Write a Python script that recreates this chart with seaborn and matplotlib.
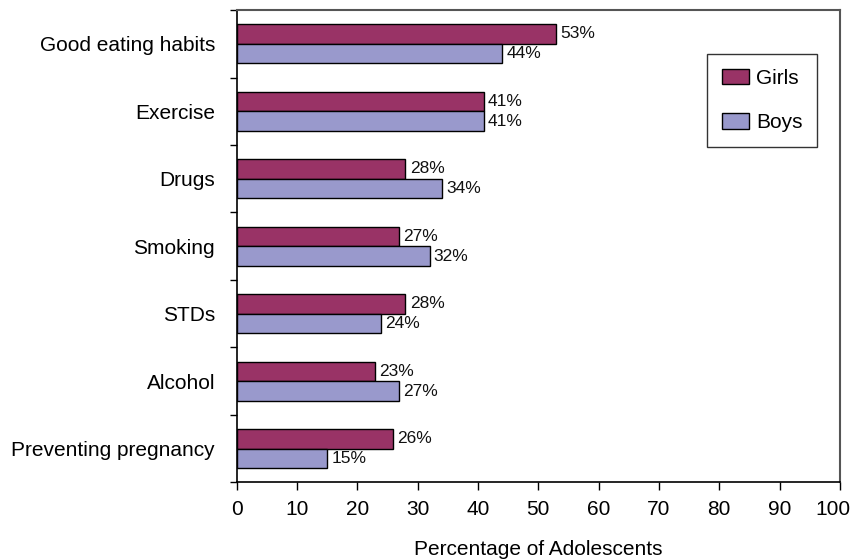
import matplotlib
matplotlib.use("Agg")
import matplotlib.pyplot as plt
import seaborn as sns
import pandas as pd
from matplotlib.ticker import FixedLocator

categories = ["Good eating habits", "Exercise", "Drugs", "Smoking", "STDs",
              "Alcohol", "Preventing pregnancy"]
girls = [53, 41, 28, 27, 28, 23, 26]
boys = [44, 41, 34, 32, 24, 27, 15]
series_names = ["Girls", "Boys"]
colors = {"Girls": "#993366", "Boys": "#9999CC"}
xticks = list(range(0, 101, 10))

df = pd.DataFrame({
    "category": categories * 2,
    "value": girls + boys,
    "series": [series_names[0]] * len(categories) + [series_names[1]] * len(categories),
})

sns.set_theme(style="white")
plt.rcParams["font.family"] = ["Liberation Sans", "DejaVu Sans"]
plt.rcParams["text.color"] = "black"
plt.rcParams["xtick.color"] = "black"
plt.rcParams["ytick.color"] = "black"
plt.rcParams["axes.labelcolor"] = "black"

fig = plt.figure(figsize=(8.52, 5.59), dpi=100)
ax = fig.add_axes([0.2776, 0.1369, 0.7083, 0.8452])

sns.barplot(data=df, y="category", x="value", hue="series", order=categories,
            hue_order=series_names, palette=colors, width=0.58, orient="h",
            edgecolor="black", linewidth=1.0, saturation=1, ax=ax)

for cont in ax.containers:
    ax.bar_label(cont, labels=[f"{int(round(v))}%" for v in cont.datavalues],
                 padding=3, fontsize=12.5, color="#111111")

ax.set_xlim(0, 100)
ax.set_ylim(len(categories) - 0.5, -0.5)
ax.set_xticks(xticks)
# last label is nudged left (as in the reference) so it stays inside the figure
ax.set_xticklabels([str(t) for t in xticks[:-1]] + [""], fontsize=15)
ax.annotate(str(xticks[-1]), xy=(xticks[-1], 0), xycoords=("data", "axes fraction"),
            xytext=(-5.3, -(5.5 + 7)), textcoords="offset points",
            ha="center", va="top", fontsize=15, color="black", annotation_clip=False)
ax.set_yticks(range(len(categories)))
ax.set_yticklabels(categories, fontsize=15)
ax.yaxis.set_minor_locator(FixedLocator([i - 0.5 for i in range(len(categories) + 1)]))
ax.tick_params(axis="y", which="major", length=0, pad=15.5)
ax.tick_params(axis="y", which="minor", length=5, width=1, color="black", direction="out", left=True)
ax.tick_params(axis="x", which="major", length=5.5, width=1, color="black", direction="out", bottom=True, pad=7)
ax.set_ylabel("")
ax.set_xlabel("Percentage of Adolescents", fontsize=15, labelpad=15)

for side in ["left", "bottom"]:
    ax.spines[side].set_color("black")
    ax.spines[side].set_linewidth(1.2)
for side in ["top", "right"]:
    ax.spines[side].set_color("#555555")
    ax.spines[side].set_linewidth(1.5)

handles, labels = ax.get_legend_handles_labels()
leg = ax.legend(handles, labels, loc="upper left", bbox_to_anchor=(0.78, 0.907),
                fontsize=15, frameon=True, fancybox=False, shadow=False,
                handlelength=1.3, handleheight=0.8, labelspacing=1.2,
                borderpad=0.7, handletextpad=0.35, borderaxespad=0)
leg.get_frame().set_edgecolor("black")
leg.get_frame().set_linewidth(1.0)

fig.savefig("out.png", dpi=100)
